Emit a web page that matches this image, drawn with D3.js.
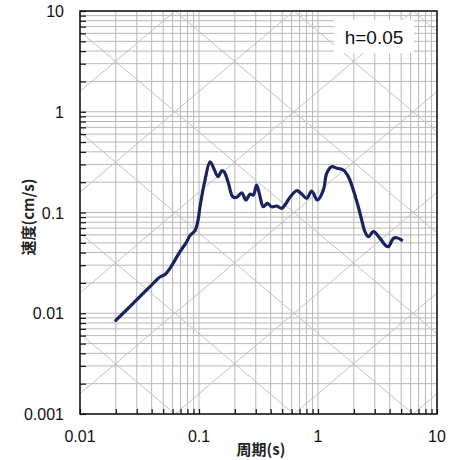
<!DOCTYPE html>
<html><head><meta charset="utf-8">
<script src="https://cdn.jsdelivr.net/npm/d3@7"></script>
<style>body{margin:0;background:#fff}svg{display:block}</style>
</head><body>
<svg id="c" width="451" height="460"></svg>
<script>
// ---- data ----
const periods = [0.020, 0.0281, 0.0387, 0.047, 0.0518, 0.0570, 0.0692, 0.0789, 0.0839, 0.0925, 0.0982, 0.1019, 0.1123, 0.1237, 0.1312, 0.1445, 0.1552, 0.1622, 0.1753, 0.192, 0.2075, 0.2284, 0.248, 0.268, 0.286, 0.305, 0.326, 0.347, 0.375, 0.408, 0.450, 0.495, 0.538, 0.582, 0.662, 0.729, 0.804, 0.885, 0.986, 1.109, 1.183, 1.303, 1.436, 1.632, 1.798, 1.98, 2.18, 2.33, 2.48, 2.65, 2.92, 3.32, 3.66, 3.90, 4.30, 4.58, 5.05];
const velocities = [0.0085, 0.0126, 0.0184, 0.0229, 0.0242, 0.0279, 0.0408, 0.0513, 0.0590, 0.0660, 0.0843, 0.114, 0.210, 0.319, 0.285, 0.227, 0.260, 0.254, 0.202, 0.1436, 0.1416, 0.157, 0.133, 0.152, 0.149, 0.1875, 0.1436, 0.114, 0.123, 0.114, 0.116, 0.110, 0.123, 0.1416, 0.1645, 0.1527, 0.1384, 0.1634, 0.133, 0.167, 0.245, 0.285, 0.275, 0.264, 0.227, 0.167, 0.114, 0.0843, 0.0645, 0.0575, 0.0645, 0.0554, 0.0476, 0.0458, 0.0554, 0.0562, 0.0533];
const xTickValues = [0.01, 0.1, 1, 10];
const xTickLabels = ["0.01", "0.1", "1", "10"];
const yTickValues = [0.001, 0.01, 0.1, 1, 10];
const yTickLabels = ["0.001", "0.01", "0.1", "1", "10"];
const dispLevels = [1e-5, 1e-4, 1e-3, 1e-2, 1e-1, 1, 10];      // cm
const accLevels = [1e-3, 1e-2, 1e-1, 1, 10, 100, 1000];       // cm/s^2
const annotation = "h=0.05";
const xTitle = "周期(s)";
const yTitle = "速度(cm/s)";

// ---- layout ----
const L = 80, R = 437, T = 11, B = 414;
const x = d3.scaleLog().domain([0.01, 10]).range([L, R]);
const y = d3.scaleLog().domain([0.001, 10]).range([B, T]);
const svg = d3.select("#c");
const latin = "'Liberation Sans', Arial, sans-serif";
const cjk = "'Noto Sans CJK JP', 'Noto Sans CJK SC', sans-serif";

svg.append("defs").append("clipPath").attr("id", "clip")
  .append("rect").attr("x", L).attr("y", T).attr("width", R - L).attr("height", B - T);

function minors(lo, hi) {
  const out = [];
  for (let e = Math.floor(Math.log10(lo)); e <= Math.ceil(Math.log10(hi)); e++) {
    for (let k = 1; k <= 9; k++) {
      const v = k * Math.pow(10, e);
      if (v >= lo * 0.999 && v <= hi * 1.001) out.push(+v.toPrecision(6));
    }
  }
  return out;
}
const xGrid = minors(0.01, 10);
const yGrid = minors(0.001, 10);

const g = svg.append("g");
// grid
g.selectAll(".vg").data(xGrid).join("line")
  .attr("x1", d => x(d)).attr("x2", d => x(d)).attr("y1", T).attr("y2", B)
  .attr("stroke", "#b8b8b8").attr("stroke-width", 1);
g.selectAll(".hg").data(yGrid).join("line")
  .attr("y1", d => y(d)).attr("y2", d => y(d)).attr("x1", L).attr("x2", R)
  .attr("stroke", "#b8b8b8").attr("stroke-width", 1);

// diagonal lines (constant displacement / acceleration)
const diag = svg.append("g").attr("clip-path", "url(#clip)");
const Tends = [0.01, 10];
dispLevels.forEach(D => {
  diag.append("line")
    .attr("x1", x(Tends[0])).attr("y1", y(2 * Math.PI * D / Tends[0]))
    .attr("x2", x(Tends[1])).attr("y2", y(2 * Math.PI * D / Tends[1]))
    .attr("stroke", "#c2c2c2").attr("stroke-width", 1);
});
accLevels.forEach(A => {
  diag.append("line")
    .attr("x1", x(Tends[0])).attr("y1", y(A * Tends[0] / (2 * Math.PI)))
    .attr("x2", x(Tends[1])).attr("y2", y(A * Tends[1] / (2 * Math.PI)))
    .attr("stroke", "#c2c2c2").attr("stroke-width", 1);
});

// annotation box
svg.append("rect").attr("x", 334).attr("y", 20).attr("width", 80).attr("height", 33).attr("fill", "#fff");
svg.append("text").attr("x", 374).attr("y", 44).attr("text-anchor", "middle")
  .attr("font-family", latin).attr("font-size", 19).attr("fill", "#111").text(annotation);

// curve
const pts = periods.map((p, i) => [p, velocities[i]]);
svg.append("path").datum(pts)
  .attr("d", d3.line().x(d => x(d[0])).y(d => y(d[1])).curve(d3.curveCatmullRom.alpha(0.5)))
  .attr("fill", "none").attr("stroke", "#19235f").attr("stroke-width", 3.2)
  .attr("stroke-linejoin", "round").attr("stroke-linecap", "round");

// frame
svg.append("rect").attr("x", L).attr("y", T).attr("width", R - L).attr("height", B - T)
  .attr("fill", "none").attr("stroke", "#111").attr("stroke-width", 1.5);

// axes with inward ticks
const xAxis = d3.axisBottom(x).tickValues(xGrid).tickSize(-5).tickFormat("");
svg.append("g").attr("transform", `translate(0,${B})`).call(xAxis)
  .call(a => a.select(".domain").remove())
  .call(a => a.selectAll("line").attr("stroke", "#111").attr("stroke-width", 1.2));
const yAxis = d3.axisLeft(y).tickValues(yGrid).tickSize(-6).tickFormat("");
svg.append("g").attr("transform", `translate(${L},0)`).call(yAxis)
  .call(a => a.select(".domain").remove())
  .call(a => a.selectAll("line").attr("stroke", "#111").attr("stroke-width", 1.2));

// tick labels
svg.append("g").selectAll("text").data(xTickValues).join("text")
  .attr("x", d => x(d)).attr("y", 442).attr("text-anchor", "middle")
  .attr("font-family", latin).attr("font-size", 16).attr("fill", "#111")
  .text((d, i) => xTickLabels[i]);
svg.append("g").selectAll("text").data(yTickValues).join("text")
  .attr("x", 64).attr("y", d => y(d) + 6).attr("text-anchor", "end")
  .attr("font-family", latin).attr("font-size", 16).attr("fill", "#111")
  .text((d, i) => yTickLabels[i]);

// titles
svg.append("text").attr("x", 261).attr("y", 455).attr("text-anchor", "middle")
  .attr("font-family", cjk).attr("font-size", 15).attr("font-weight", 700).attr("fill", "#222").text(xTitle);
svg.append("text").attr("transform", "translate(34,217) rotate(-90)").attr("text-anchor", "middle")
  .attr("font-family", cjk).attr("font-size", 15).attr("font-weight", 700).attr("fill", "#222").text(yTitle);
</script>
</body></html>
